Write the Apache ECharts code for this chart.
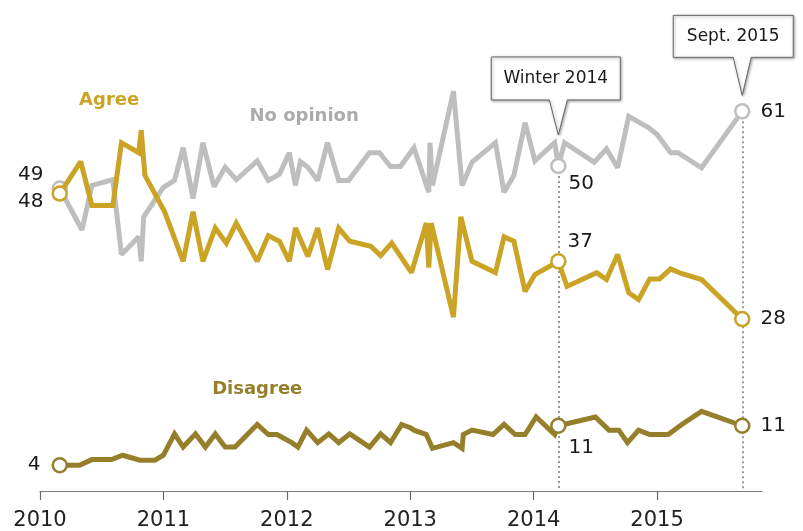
<!DOCTYPE html>
<html><head><meta charset="utf-8">
<script src="https://cdn.jsdelivr.net/npm/echarts@6/dist/echarts.min.js"></script>
<style>html,body{margin:0;padding:0;background:#fff}#c{width:803px;height:531px}</style>
</head><body><div id="c"></div>
<script>
// ---- data (decimal year, percent) ----
const agreeX = [2010.16,2010.33,2010.42,2010.59,2010.66,2010.80,2010.82,2010.85,2011.01,2011.16,2011.24,2011.32,2011.42,2011.51,2011.59,2011.76,2011.85,2011.94,2012.02,2012.07,2012.17,2012.25,2012.33,2012.42,2012.51,2012.68,2012.76,2012.85,2013.01,2013.13,2013.15,2013.17,2013.35,2013.41,2013.50,2013.69,2013.76,2013.84,2013.93,2014.01,2014.20,2014.27,2014.51,2014.59,2014.68,2014.77,2014.85,2014.94,2015.02,2015.11,2015.19,2015.36,2015.69];
const agreeY = [48.0,53.1,46.1,46.1,56.1,54.5,58.1,50.9,45.1,37.2,45.1,37.2,42.5,40.1,43.3,37.2,41.3,40.4,37.2,42.5,38.0,42.5,35.9,42.5,40.4,39.6,38.1,40.1,35.4,43.3,36.2,43.3,28.3,44.3,37.2,35.4,41.1,40.4,32.4,35.1,37.2,33.2,35.4,34.3,38.3,32.2,31.1,34.4,34.4,36.0,35.3,34.3,28.0];

const noOpX = [2010.16,2010.34,2010.42,2010.59,2010.66,2010.80,2010.82,2010.84,2011.00,2011.09,2011.16,2011.24,2011.32,2011.41,2011.50,2011.59,2011.76,2011.85,2011.94,2012.02,2012.07,2012.11,2012.17,2012.25,2012.33,2012.42,2012.50,2012.67,2012.75,2012.84,2012.92,2013.03,2013.15,2013.16,2013.18,2013.35,2013.42,2013.50,2013.69,2013.76,2013.84,2013.93,2014.01,2014.17,2014.20,2014.25,2014.49,2014.59,2014.68,2014.77,2014.93,2015.00,2015.11,2015.17,2015.36,2015.69];
const noOpY = [48.8,42.2,49.3,50.2,38.3,41.1,37.2,44.3,49.0,50.1,55.3,47.2,56.1,49.1,52.2,50.2,53.2,50.1,51.1,54.5,49.3,53.1,52.2,50.1,56.1,50.1,50.1,54.5,54.5,52.3,52.3,55.3,48.2,56.1,49.3,64.3,49.3,53.0,56.1,48.2,50.9,59.3,53.2,56.1,52.4,56.1,53.0,55.1,52.1,60.3,58.5,57.4,54.5,54.5,52.1,61.1];

const disX = [2010.16,2010.32,2010.42,2010.58,2010.67,2010.81,2010.93,2011.00,2011.09,2011.16,2011.26,2011.34,2011.42,2011.50,2011.58,2011.76,2011.85,2011.92,2012.04,2012.09,2012.16,2012.25,2012.34,2012.42,2012.51,2012.67,2012.76,2012.84,2012.93,2013.00,2013.03,2013.13,2013.18,2013.35,2013.42,2013.43,2013.50,2013.67,2013.76,2013.85,2013.93,2014.02,2014.17,2014.20,2014.50,2014.61,2014.69,2014.76,2014.85,2014.94,2015.09,2015.20,2015.36,2015.69];
const disY = [4.7,4.7,5.6,5.6,6.3,5.5,5.5,6.3,9.7,7.6,9.7,7.6,9.7,7.6,7.6,11.2,9.6,9.6,8.3,7.6,10.3,8.3,9.7,8.3,9.7,7.6,9.7,8.3,11.2,10.7,10.3,9.6,7.4,8.3,7.4,9.6,10.3,9.6,11.2,9.6,9.6,12.4,9.6,11.0,12.4,10.3,10.3,8.3,10.3,9.6,9.6,11.2,13.3,11.0];

const yearTicks = [2010,2011,2012,2013,2014,2015];
const winterX = 2014.20, septX = 2015.69;

// labelled points: x value -> [label text, placement, offset]
const agreeLabels = {2010.16:['48','left',[0,8]], 2014.20:['37','right',[-7,-20]], 2015.69:['28','right',[2,0]]};
const noOpLabels  = {2010.16:['49','left',[0,-14]], 2014.20:['50','right',[-6,18]], 2015.69:['61','right',[2,0]]};
const disLabels   = {2010.16:['4','left',[-3,0]], 2014.20:['11','right',[-6,22]], 2015.69:['11','right',[2,0]]};

const C_AGREE = '#CBA425', C_NO = '#BEBEBE', C_DIS = '#957F2B';
const FONT = '"DejaVu Sans", sans-serif';

function build(xs, ys, labels, color) {
  return xs.map((x, i) => {
    const lab = labels[x];
    if (!lab) return [x, ys[i]];
    return {
      value: [x, ys[i]],
      symbol: 'circle', symbolSize: 14,
      itemStyle: {color: '#fff', borderColor: color, borderWidth: 2.5},
      label: {show: true, formatter: lab[0], position: lab[1], offset: lab[2],
              color: '#1a1a1a', fontSize: 20, fontFamily: FONT, distance: 8}
    };
  });
}

function lineSeries(name, xs, ys, labels, color, z) {
  return {
    name, type: 'line', z,
    data: build(xs, ys, labels, color),
    symbol: 'none', showSymbol: true, showAllSymbol: true,
    lineStyle: {color, width: 5, join: 'miter', miterLimit: 2.2},
    itemStyle: {color},
    emphasis: {disabled: true}, animation: false, silent: true
  };
}

const chart = echarts.init(document.getElementById('c'), null, {renderer: 'canvas'});

// dotted reference lines, drawn beneath all series
const guideSeries = {
  type: 'line', z: 1, data: [], silent: true, animation: false,
  markLine: {
    silent: true, symbol: 'none', animation: false, z: 1,
    lineStyle: {color: '#777', type: [2, 3], width: 1.5},
    label: {show: false}, emphasis: {disabled: true},
    data: [
      [{coord: [winterX, noOpY[noOpX.indexOf(winterX)]]}, {coord: [winterX, 0.6]}],
      [{coord: [septX, noOpY[noOpX.indexOf(septX)]]}, {coord: [septX, 0.6]}]
    ]
  }
};

chart.setOption({
  animation: false,
  grid: {left: 40, right: 41, top: 55.5, bottom: 35, containLabel: false},
  xAxis: {
    type: 'value', min: 2010, max: 2015.85, interval: 1,
    splitLine: {show: false},
    axisLine: {show: true, lineStyle: {color: '#7a7a7a', width: 1.2}},
    axisTick: {show: true, length: 9, customValues: yearTicks, lineStyle: {color: '#666', width: 1.2}},
    axisLabel: {customValues: yearTicks, color: '#222', fontSize: 21, fontFamily: FONT, margin: 19,
                formatter: v => String(v)}
  },
  yAxis: {type: 'value', min: 0.6, max: 70, show: false, splitLine: {show: false}},
  series: [
    guideSeries,
    lineSeries('No opinion', noOpX, noOpY, noOpLabels, C_NO, 2),
    lineSeries('Agree', agreeX, agreeY, agreeLabels, C_AGREE, 3),
    lineSeries('Disagree', disX, disY, disLabels, C_DIS, 4)
  ]
});

// annotations (callouts & series names), positioned through the axes
function px(p) { return chart.convertToPixel({gridIndex: 0}, p); }
const g = [];
function callout(text, x, y, gap, w, h, tail, leftFrac) {
  const c = px([x, y]);
  const tipX = c[0], tipY = c[1] - gap;
  const b = tipY - tail, t = b - h, l = tipX - w * leftFrac, r = l + w;
  g.push({type: 'polygon', z: 10,
    shape: {points: [[l,t],[r,t],[r,b],[tipX+9,b],[tipX,tipY],[tipX-9,b],[l,b]]},
    style: {fill: '#fff', stroke: '#666', lineWidth: 1,
            shadowBlur: 3, shadowColor: 'rgba(0,0,0,0.35)', shadowOffsetX: 1, shadowOffsetY: 1}});
  g.push({type: 'text', z: 11, x: (l + r) / 2, y: (t + b) / 2,
    style: {text, fill: '#1a1a1a', font: '17px ' + FONT, align: 'center', verticalAlign: 'middle'}});
}
callout('Winter 2014', winterX, noOpY[noOpX.indexOf(winterX)], 31, 129, 43, 35, 0.52);
callout('Sept. 2015', septX, noOpY[noOpX.indexOf(septX)], 16, 120, 42, 38, 0.575);

function nameLabel(text, x, y, color) {
  const p = px([x, y]);
  g.push({type: 'text', z: 11, x: p[0], y: p[1],
    style: {text, fill: color, font: 'bold 18px ' + FONT, align: 'center', verticalAlign: 'middle'}});
}
nameLabel('Agree', 2010.56, 62.8, C_AGREE);
nameLabel('No opinion', 2012.14, 60.3, '#ABABAB');
nameLabel('Disagree', 2011.76, 16.8, C_DIS);

chart.setOption({graphic: {elements: g}});
</script></body></html>
